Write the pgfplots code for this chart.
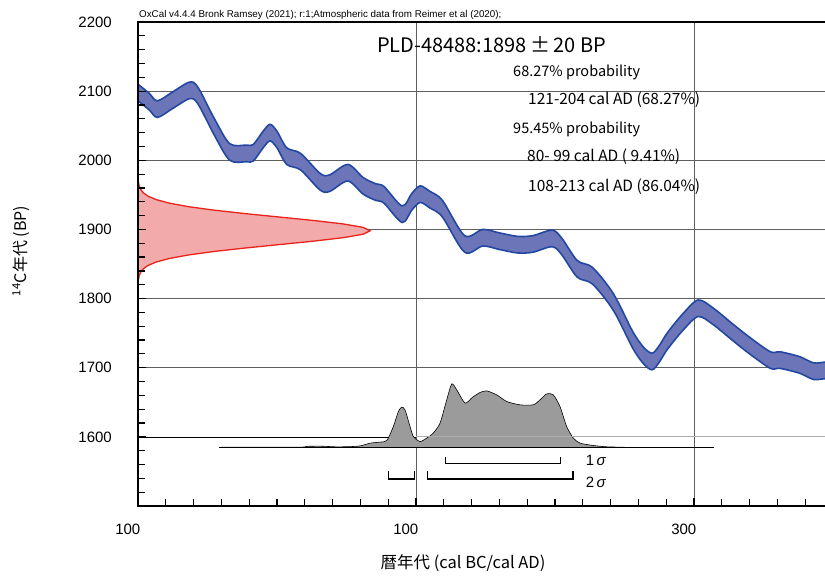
\documentclass[border=0pt]{standalone}
\usepackage{fontspec}
\setmainfont{Liberation Sans}
\newfontfamily\jp{Noto Sans CJK JP}
\usepackage{pgfplots}
\pgfplotsset{compat=1.18}
\definecolor{bandfill}{RGB}{108,117,184}
\definecolor{bandedge}{RGB}{34,72,162}
\definecolor{redline}{RGB}{232,36,28}
\definecolor{redfill}{RGB}{243,170,170}
\definecolor{distfill}{RGB}{155,155,155}
\definecolor{gridc}{RGB}{95,95,95}
\begin{document}
\begin{tikzpicture}[x=1pt,y=1pt]
\useasboundingbox (0,0) rectangle (825,581);
\begin{axis}[
  at={(138pt,75pt)}, anchor=south west,
  scale only axis, width=695pt, height=484pt,
  xmin=-100, xmax=400, ymin=1500, ymax=2200,
  axis on top,
  axis line style={line width=1.8pt},
  tick align=inside,
  xtick={-100,100,300}, xticklabels={100,100,300},
  minor xtick={-80,-60,...,380},
  ytick={1500,1600,...,2200}, yticklabels={,1600,1700,1800,1900,2000,2100,2200},
  minor ytick={1520,1540,...,2180},
  xtick pos=bottom, ytick pos=left,
  major tick length=8pt, minor tick length=7pt,
  tick style={black, line width=1.2pt},
  ticklabel style={font=\fontsize{15}{15}\selectfont},
  xticklabel style={anchor=north east, inner sep=0pt, xshift=2.5pt, yshift=-18pt},
  yticklabel style={anchor=east, inner sep=0pt, xshift=-26pt},
  clip=true,
]
% grid
\addplot[gridc, line width=0.6pt] coordinates {(-100,1700)(400,1700)};
\addplot[gridc, line width=0.6pt] coordinates {(-100,1800)(400,1800)};
\addplot[gridc, line width=0.6pt] coordinates {(-100,1900)(400,1900)};
\addplot[gridc, line width=0.6pt] coordinates {(-100,2000)(400,2000)};
\addplot[gridc, line width=0.6pt] coordinates {(-100,2100)(400,2100)};
\addplot[gridc, line width=0.6pt] coordinates {(100,1500)(100,2200)};
\addplot[gridc, line width=0.6pt] coordinates {(300,1500)(300,2200)};
\addplot[black, line width=0.7pt] coordinates {(-100,1600)(100,1600)};
% calibration band
\addplot[smooth, tension=0.5, draw=bandedge, line width=1.6pt, fill=bandfill] coordinates {
(-100,2110)(-92,2097)(-86,2086)(-75,2099)(-63,2113)(-57,2106)(-45,2060)(-34,2024)(-22,2022)(-17,2023)(-10,2042)(-5,2052)(0,2042)(7,2018)(17,2010)(31,1981)(38,1979)(51,1994)(62,1975)(71,1966)(77,1962)(90,1934)(97,1952)(103,1963)(110,1955)(119,1942)(135,1891)(148,1900)(160,1895)(173,1890)(184,1891)(198,1899)(205,1887)(216,1855)(227,1845)(242,1807)(256,1752)(264,1729)(270,1721)(275,1732)(281,1751)(292,1778)(303,1798)(314,1786)(328,1763)(340,1744)(355,1723)(362,1723)(376,1716)(386,1707)(394,1708)(400,1707)
(400,1683)(394,1684)(386,1683)(376,1692)(362,1699)(355,1699)(340,1720)(328,1739)(314,1762)(303,1774)(292,1754)(281,1727)(275,1708)(270,1697)(264,1705)(256,1728)(242,1783)(227,1821)(216,1831)(205,1863)(198,1875)(184,1867)(173,1866)(160,1871)(148,1876)(135,1867)(119,1918)(110,1931)(103,1939)(97,1928)(90,1910)(77,1938)(71,1942)(62,1951)(51,1970)(38,1955)(31,1957)(17,1986)(7,1994)(0,2018)(-5,2028)(-10,2018)(-17,1999)(-22,1998)(-34,2000)(-45,2036)(-57,2082)(-63,2089)(-75,2075)(-86,2062)(-92,2073)(-100,2086)
};
% radiocarbon date (normal)
\addplot[draw=redline, line width=1.3pt, fill=redfill] coordinates {
(-100,1828)(-99.6,1828)(-99.15,1833)(-98.1,1838)(-96.2,1843)(-92.7,1848)(-86.7,1853)(-77.4,1858)(-63.9,1863)(-45.8,1868)(-23.5,1873)(1.3,1878)(26.0,1883)(47.4,1888)(61.9,1893)(67,1898)
(61.9,1903)(47.4,1908)(26.0,1913)(1.3,1918)(-23.5,1923)(-45.8,1928)(-63.9,1933)(-77.4,1938)(-86.7,1943)(-92.7,1948)(-96.2,1953)(-98.1,1958)(-99.15,1963)(-99.6,1968)(-100,1968)
};
% calibrated distribution
\addplot[smooth, tension=0.4, draw=black, line width=0.6pt, fill=distfill] coordinates {
(-40,1585)(15,1585)(22,1586.3)(32,1586.5)(42,1585.6)(52,1585.8)(60,1587)(67,1590.9)(74,1592.4)(79,1594.7)(83.7,1614.9)(87.3,1636.6)(89.7,1643)(92.1,1639)(95.7,1615)(98.1,1600.5)(102.9,1593.2)(107.7,1598.2)(112.4,1605.4)(117.3,1619.9)(122.1,1653.5)(125.7,1676.6)(129.3,1668)(135.3,1648.8)(140.5,1657)(146,1664.1)(150.9,1666.5)(158.1,1660.7)(165.3,1651.1)(174.8,1646.3)(184.4,1646.3)(189.2,1653.5)(194,1662.2)(198.8,1660.7)(203.6,1643.8)(208.4,1614.9)(213.2,1598.2)(218,1590.9)(227.6,1587.5)(237.2,1585.6)(250,1585)
};
\addplot[gray!65, line width=0.8pt] coordinates {(100,1600)(400,1600)};
\addplot[black, line width=1.2pt] coordinates {(-41.5,1585)(314.6,1585)};
% ranges
\addplot[black, line width=1.2pt] coordinates {(121,1571)(121,1562)(204,1562)(204,1571)};
\addplot[black, line width=1.2pt] coordinates {(80,1550)(80,1539)(99,1539)(99,1550)};
\addplot[black, line width=1.2pt] coordinates {(108,1550)(108,1539)(213,1539)(213,1550)};
\node[anchor=west, inner sep=0pt, font=\fontsize{15}{15}\selectfont] at (axis cs:222,1566.5) {1\,\textit{σ}};
\node[anchor=west, inner sep=0pt, font=\fontsize{15}{15}\selectfont] at (axis cs:222,1533.5) {2\,\textit{σ}};
\end{axis}
\node[anchor=base west, inner sep=0pt, font=\fontsize{9.8}{11}\selectfont] at (139,563) {OxCal v4.4.4 Bronk Ramsey (2021); r:1;Atmospheric data from Reimer et al (2020);};
\node[anchor=west, inner sep=0pt, font=\jp\fontsize{20}{24}\selectfont] at (377,536) {PLD-48488:1898\,±\,20 BP};
\node[anchor=west, inner sep=0pt, font=\jp\fontsize{14.5}{16}\selectfont] at (513,509) {68.27\% probability};
\node[anchor=west, inner sep=0pt, font=\jp\fontsize{15.5}{16}\selectfont] at (528,481) {121-204 cal AD (68.27\%)};
\node[anchor=west, inner sep=0pt, font=\jp\fontsize{14.5}{16}\selectfont] at (513,452) {95.45\% probability};
\node[anchor=west, inner sep=0pt, font=\jp\fontsize{15.5}{16}\selectfont] at (527,424) {80- 99 cal AD ( 9.41\%)};
\node[anchor=west, inner sep=0pt, font=\jp\fontsize{15.5}{16}\selectfont] at (528,394) {108-213 cal AD (86.04\%)};
\node[rotate=90, inner sep=0pt, font=\jp\fontsize{16}{18}\selectfont] at (21,330) {\textsuperscript{14}C年代 (BP)};
\node[inner sep=0pt, font=\jp\fontsize{16.5}{18}\selectfont] at (463,18) {暦年代 (cal BC/cal AD)};
\end{tikzpicture}
\end{document}
